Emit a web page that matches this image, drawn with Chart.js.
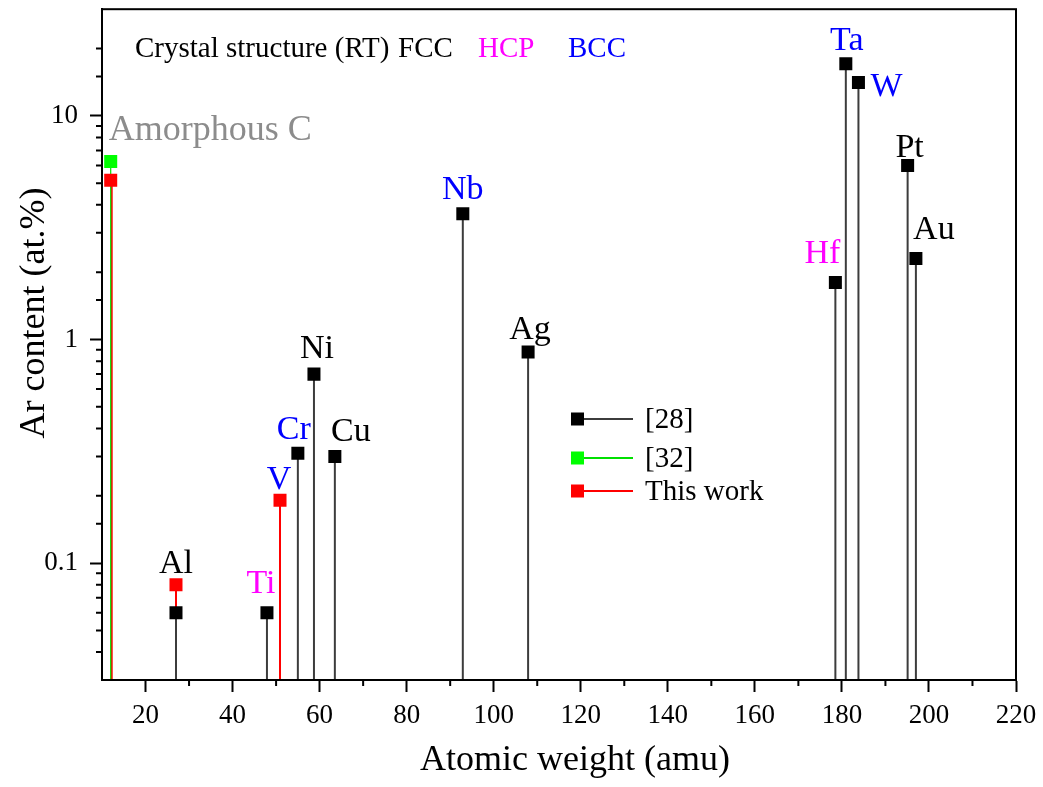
<!DOCTYPE html>
<html>
<head>
<meta charset="utf-8">
<script src="https://cdn.jsdelivr.net/npm/chart.js@4.4.1/dist/chart.umd.min.js"></script>
<style>
  html, body { margin: 0; padding: 0; background: #fff; }
  #wrap { width: 1043px; height: 787px; }
</style>
</head>
<body>
<div id="wrap"><canvas id="chart"></canvas></div>
<script>
// values
const ref28X = [27.0, 47.9, 55.0, 58.7, 63.5, 92.9, 107.9, 178.5, 180.9, 183.8, 195.1, 197.0];
const ref28Y = [0.06, 0.06, 0.31, 0.70, 0.30, 3.65, 0.88, 1.80, 17.1, 14.1, 6.0, 2.3];
const ref28Names = ['Al', 'Ti', 'Cr', 'Ni', 'Cu', 'Nb', 'Ag', 'Hf', 'Ta', 'W', 'Pt', 'Au'];

const ref32X = [12.0];
const ref32Y = [6.25];

const thisX = [12.0, 27.0, 50.9];
const thisY = [5.16, 0.08, 0.191];
const thisNames = ['Amorphous C', 'Al', 'V'];

const seriesNames = ['[28]', '[32]', 'This work'];
const xMajorTicks = [20, 40, 60, 80, 100, 120, 140, 160, 180, 200, 220];
const yMajorTicks = [0.1, 1, 10];

const SERIF = "'Liberation Serif', 'Times New Roman', serif";
const MAGENTA = '#ff00ff', BLUE = '#0000ff', GREY = '#8c8c8c';

// label styling: which series/point it hangs on, colour, pixel offset from the marker
const labelStyle = [
  { set: 0, i: 1, color: MAGENTA, dx: -6, dy: -20 },
  { set: 0, i: 2, color: BLUE, dx: -4, dy: -14 },
  { set: 0, i: 3, color: '#000', dx: 3, dy: -16 },
  { set: 0, i: 4, color: '#000', dx: 16, dy: -15 },
  { set: 0, i: 5, color: BLUE, dx: 0, dy: -15 },
  { set: 0, i: 6, color: '#000', dx: 2, dy: -13 },
  { set: 0, i: 7, color: MAGENTA, dx: -13, dy: -19 },
  { set: 0, i: 8, color: BLUE, dx: 1, dy: -14 },
  { set: 0, i: 9, color: BLUE, dx: 28, dy: 13 },
  { set: 0, i: 10, color: '#000', dx: 2, dy: -8 },
  { set: 0, i: 11, color: '#000', dx: 18, dy: -20 },
  { set: 2, i: 0, color: GREY, dx: -2, dy: -40, left: true, size: 36 },
  { set: 2, i: 1, color: '#000', dx: 0, dy: -12 },
  { set: 2, i: 2, color: BLUE, dx: -1, dy: -11 }
];

function pts(xs, ys) {
  return xs.map((x, i) => ({ x: x, y: ys[i] }));
}

function isPow10(v) {
  const l = Math.log10(v);
  return Math.abs(l - Math.round(l)) < 1e-9;
}

const seriesColor = ['#000000', '#00ff00', '#ff0000'];
const dropColor = ['#3c3c3c', '#00e000', '#ff0000'];

const decor = {
  id: 'decor',
  beforeDatasetsDraw(chart) {
    const ctx = chart.ctx, area = chart.chartArea;
    ctx.save();
    // red first, then green, then black so the thin lines overlap like the original
    [2, 1, 0].forEach(d => {
      const meta = chart.getDatasetMeta(d);
      ctx.strokeStyle = dropColor[d];
      ctx.lineWidth = d === 1 ? 1.2 : 2;
      meta.data.forEach(p => {
        const off = (d === 2 && p.x < area.left + 20) ? 1 : 0;
        ctx.beginPath();
        ctx.moveTo(p.x + off, p.y);
        ctx.lineTo(p.x + off, area.bottom);
        ctx.stroke();
      });
    });
    ctx.restore();
  },
  afterDraw(chart) {
    const ctx = chart.ctx, area = chart.chartArea;
    const xs = chart.scales.x, ys = chart.scales.y;
    ctx.save();

    // frame
    ctx.strokeStyle = '#000';
    ctx.lineWidth = 2;
    ctx.strokeRect(area.left, area.top, area.right - area.left, area.bottom - area.top);

    // minor ticks
    ctx.beginPath();
    xs.ticks.forEach(t => {
      if (xMajorTicks.includes(t.value) || t.value === xs.min) return;
      const px = xs.getPixelForValue(t.value);
      ctx.moveTo(px, area.bottom);
      ctx.lineTo(px, area.bottom + 6);
    });
    ys.ticks.forEach(t => {
      if (isPow10(t.value) || t.value <= ys.min || t.value >= ys.max) return;
      const py = ys.getPixelForValue(t.value);
      ctx.moveTo(area.left, py);
      ctx.lineTo(area.left - 6, py);
    });
    ctx.stroke();

    // element labels
    ctx.textBaseline = 'alphabetic';
    labelStyle.forEach(l => {
      const p = chart.getDatasetMeta(l.set).data[l.i];
      const name = l.set === 0 ? ref28Names[l.i] : thisNames[l.i];
      ctx.font = (l.size || 34) + 'px ' + SERIF;
      ctx.fillStyle = l.color;
      ctx.textAlign = l.left ? 'left' : 'center';
      ctx.fillText(name, p.x + l.dx, p.y + l.dy);
    });

    // crystal structure header
    ctx.font = '29px ' + SERIF;
    ctx.textAlign = 'left';
    ctx.fillStyle = '#000';
    ctx.fillText('Crystal structure (RT)', 135, 57);
    ctx.fillText('FCC', 398, 57);
    ctx.fillStyle = MAGENTA;
    ctx.fillText('HCP', 478, 57);
    ctx.fillStyle = BLUE;
    ctx.fillText('BCC', 568, 57);

    // legend
    const legY = [419, 458, 491];
    seriesNames.forEach((name, d) => {
      const y = legY[d];
      ctx.strokeStyle = dropColor[d];
      ctx.lineWidth = 2;
      ctx.beginPath();
      ctx.moveTo(578, y);
      ctx.lineTo(633, y);
      ctx.stroke();
      ctx.fillStyle = seriesColor[d];
      ctx.fillRect(571, y - 6.5, 13, 13);
      ctx.fillStyle = '#000';
      ctx.font = '29px ' + SERIF;
      ctx.textAlign = 'left';
      ctx.textBaseline = 'middle';
      ctx.fillText(name, 645, y + 1);
    });

    // axis titles
    ctx.fillStyle = '#000';
    ctx.font = '36px ' + SERIF;
    ctx.textAlign = 'center';
    ctx.textBaseline = 'alphabetic';
    ctx.fillText('Atomic weight (amu)', 575, 770);
    ctx.translate(44, 313);
    ctx.rotate(-Math.PI / 2);
    ctx.fillText('Ar content (at.%)', 0, 0);

    ctx.restore();
  }
};

new Chart(document.getElementById('chart'), {
  type: 'scatter',
  data: {
    datasets: [
      { label: seriesNames[0], data: pts(ref28X, ref28Y), backgroundColor: seriesColor[0], borderColor: seriesColor[0], order: 0 },
      { label: seriesNames[1], data: pts(ref32X, ref32Y), backgroundColor: seriesColor[1], borderColor: seriesColor[1], order: 2 },
      { label: seriesNames[2], data: pts(thisX, thisY), backgroundColor: seriesColor[2], borderColor: seriesColor[2], order: 1 }
    ]
  },
  options: {
    responsive: true,
    maintainAspectRatio: false,
    animation: false,
    layout: { padding: { left: 0, right: 27, top: 8, bottom: 0 } },
    elements: {
      point: { pointStyle: 'rect', radius: 9.2, borderWidth: 0, hoverRadius: 9.2 }
    },
    plugins: {
      legend: { display: false },
      tooltip: { enabled: false }
    },
    scales: {
      x: {
        type: 'linear',
        min: 10,
        max: 220,
        afterFit(s) { s.height = 107; s.paddingLeft = 0; s.paddingRight = 0; },
        border: { display: true, color: '#000', width: 2 },
        grid: {
          drawOnChartArea: false,
          drawTicks: true,
          tickLength: 12,
          tickWidth: 2,
          tickColor: c => xMajorTicks.includes(c.tick.value) ? '#000' : 'rgba(0,0,0,0)'
        },
        ticks: {
          stepSize: 10,
          autoSkip: false,
          maxRotation: 0,
          padding: 8,
          color: '#000',
          font: { family: SERIF, size: 27 },
          callback: v => xMajorTicks.includes(v) ? String(v) : ''
        }
      },
      y: {
        type: 'logarithmic',
        min: 0.03,
        max: 30,
        afterFit(s) { s.width = 102; s.paddingTop = 0; s.paddingBottom = 0; },
        border: { display: true, color: '#000', width: 2 },
        grid: {
          drawOnChartArea: false,
          drawTicks: true,
          tickLength: 12,
          tickWidth: 2,
          tickColor: c => isPow10(c.tick.value) ? '#000' : 'rgba(0,0,0,0)'
        },
        ticks: {
          autoSkip: false,
          padding: 12,
          color: '#000',
          font: { family: SERIF, size: 27 },
          callback: v => (isPow10(v) && yMajorTicks.some(t => Math.abs(t - v) < 1e-9)) ? String(+v.toPrecision(3)) : ''
        }
      }
    }
  },
  plugins: [decor]
});
</script>
</body>
</html>
